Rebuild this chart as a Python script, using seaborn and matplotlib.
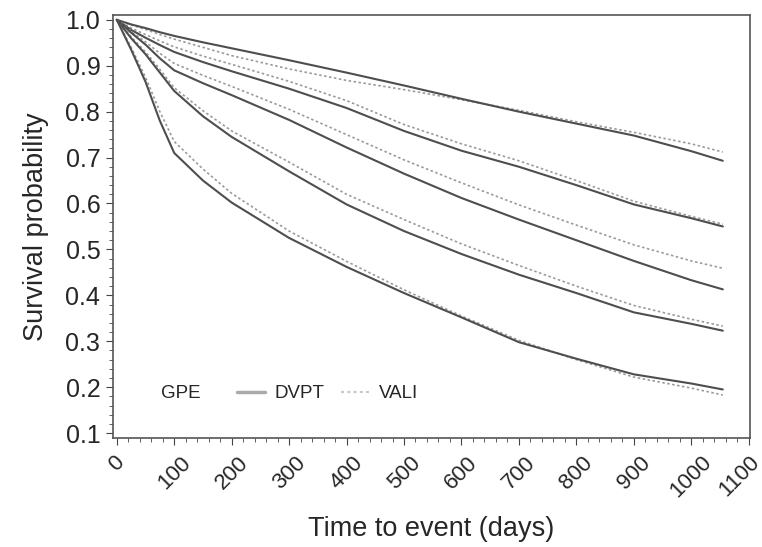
import numpy as np
import pandas as pd
import matplotlib
matplotlib.use("Agg")
import matplotlib.pyplot as plt
import seaborn as sns
from matplotlib.lines import Line2D
from matplotlib.ticker import MultipleLocator

days = [0, 25, 50, 75, 100, 150, 200, 300, 400, 500, 600, 700, 800, 900, 1000, 1055]

# five risk groups, development (solid) vs validation (dotted)
dvpt_1 = [1.0, 0.990, 0.982, 0.973, 0.965, 0.951, 0.938, 0.912, 0.885, 0.857, 0.828, 0.800, 0.774, 0.748, 0.714, 0.693]
vali_1 = [1.0, 0.989, 0.979, 0.968, 0.958, 0.940, 0.922, 0.893, 0.868, 0.848, 0.826, 0.803, 0.778, 0.755, 0.730, 0.712]
dvpt_2 = [1.0, 0.978, 0.961, 0.945, 0.930, 0.908, 0.888, 0.850, 0.808, 0.758, 0.715, 0.680, 0.640, 0.598, 0.568, 0.550]
vali_2 = [1.0, 0.982, 0.968, 0.954, 0.941, 0.921, 0.903, 0.866, 0.824, 0.772, 0.730, 0.693, 0.650, 0.605, 0.572, 0.555]
dvpt_3 = [1.0, 0.972, 0.946, 0.916, 0.890, 0.862, 0.836, 0.782, 0.722, 0.665, 0.612, 0.565, 0.520, 0.475, 0.433, 0.413]
vali_3 = [1.0, 0.975, 0.952, 0.927, 0.905, 0.879, 0.855, 0.805, 0.750, 0.695, 0.645, 0.597, 0.553, 0.510, 0.475, 0.459]
dvpt_4 = [1.0, 0.960, 0.925, 0.885, 0.845, 0.790, 0.745, 0.670, 0.598, 0.540, 0.490, 0.445, 0.405, 0.363, 0.338, 0.323]
vali_4 = [1.0, 0.963, 0.930, 0.892, 0.852, 0.802, 0.758, 0.690, 0.620, 0.565, 0.512, 0.465, 0.420, 0.378, 0.348, 0.333]
dvpt_5 = [1.0, 0.935, 0.865, 0.780, 0.710, 0.650, 0.602, 0.525, 0.462, 0.405, 0.352, 0.298, 0.262, 0.228, 0.208, 0.195]
vali_5 = [1.0, 0.940, 0.875, 0.800, 0.735, 0.675, 0.622, 0.540, 0.474, 0.412, 0.355, 0.302, 0.260, 0.222, 0.198, 0.183]

rows = []
for g, (d, v) in enumerate([(dvpt_1, vali_1), (dvpt_2, vali_2), (dvpt_3, vali_3),
                            (dvpt_4, vali_4), (dvpt_5, vali_5)]):
    for t, s in zip(days, d):
        rows.append({"days": t, "surv": s, "group": g, "set": "DVPT"})
    for t, s in zip(days, v):
        rows.append({"days": t, "surv": s, "group": g, "set": "VALI"})
df = pd.DataFrame(rows)

sns.set_style("ticks")
plt.rcParams["font.family"] = ["Liberation Sans", "DejaVu Sans"]

fig = plt.figure(figsize=(7.62, 5.47), dpi=100)
ax = fig.add_axes([0.148, 0.199, 0.836, 0.774])

for g in range(5):
    sub = df[df["group"] == g]
    sns.lineplot(data=sub[sub["set"] == "VALI"], x="days", y="surv", ax=ax,
                 color="#9a9a9a", linestyle=(0, (1.5, 1.5)), linewidth=1.2, legend=False)
    sns.lineplot(data=sub[sub["set"] == "DVPT"], x="days", y="surv", ax=ax,
                 color="#4e4e4e", linewidth=1.5, legend=False)

ax.set_xlim(-7, 1102)
ax.set_ylim(0.089, 1.011)
ax.xaxis.set_major_locator(MultipleLocator(100))
ax.xaxis.set_minor_locator(MultipleLocator(20))
ax.yaxis.set_minor_locator(MultipleLocator(0.02))
ax.set_yticks(np.arange(0.1, 1.01, 0.1))
ax.set_yticklabels([f"{v:.1f}" for v in np.arange(0.1, 1.01, 0.1)])
ax.set_xticks(np.arange(0, 1101, 100))
ax.tick_params(axis="y", which="major", labelsize=18, length=5, color="#444444", pad=4)
ax.tick_params(axis="x", which="major", labelsize=16, length=5, color="#444444", pad=5)
ax.tick_params(axis="both", which="minor", length=3, color="#444444")
xlabels = ax.get_xticklabels()
for lab in xlabels:
    lab.set_rotation(45)
    lab.set_ha("center")
# last label hugs the right edge, anchor it at its right end
xlabels[-1].set_ha("right")
xlabels[-1].set_rotation_mode("anchor")
for sp in ax.spines.values():
    sp.set_color("#555555")
    sp.set_linewidth(1.2)

ax.set_xlabel("Time to event (days)", fontsize=19.5, labelpad=10)
ax.set_ylabel("Survival probability", fontsize=19.5, labelpad=12)

ax.text(0.075, 0.105, "GPE", transform=ax.transAxes, fontsize=13.5, va="center")
handles = [Line2D([], [], color="#aaaaaa", linewidth=2.5),
           Line2D([], [], color="#c8c8c8", linewidth=1.5, linestyle=(0, (1.5, 1.5)))]
ax.legend(handles, ["DVPT", "VALI"], ncol=2, frameon=False, fontsize=13.5,
          loc="center left", bbox_to_anchor=(0.168, 0.105), handlelength=1.5,
          handletextpad=0.5, columnspacing=0.9)

fig.savefig("out.png", dpi=100)
